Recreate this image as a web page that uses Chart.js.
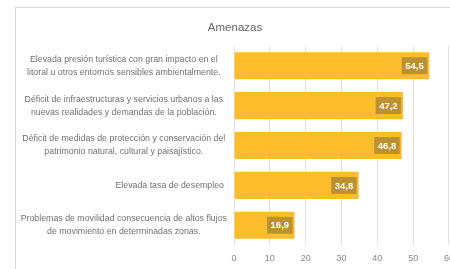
<!DOCTYPE html>
<html>
<head>
<meta charset="utf-8">
<script src="https://cdn.jsdelivr.net/npm/chart.js@4"></script>
<style>
  body { margin: 0; width: 450px; height: 269px; overflow: hidden; background: #fff; }
  #box { position: absolute; left: 15px; top: 7px; border-left: 1px solid #d9d9d9; border-top: 1px solid #d9d9d9; }
</style>
</head>
<body>
<div id="box"><canvas id="chart" width="446" height="268"></canvas></div>
<script>
// Threat categories (one array entry per bar, lines as they wrap)
const categories = [
    ['Elevada presión turística con gran impacto en el', 'litoral u otros entornos sensibles ambientalmente.'],
    ['Déficit de infraestructuras y servicios urbanos a las', 'nuevas realidades y demandas de la población.'],
    ['Déficit de medidas de protección y conservación del', 'patrimonio natural, cultural y paisajístico.'],
    ['Elevada tasa de desempleo'],
    ['Problemas de movilidad consecuencia de altos flujos', 'de movimiento en determinadas zonas.']
];
const values = [54.5, 47.2, 46.8, 34.8, 16.9];
const xTickValues = [0, 10, 20, 30, 40, 50, 60];

const fontFamily = '"Liberation Sans", Arial, sans-serif';
const labelFont = '8.8px ' + fontFamily;

// Category labels: multi-line ones centered, single-line ones right aligned (Excel style)
const categoryLabels = {
    id: 'categoryLabels',
    afterDraw(chart) {
        const ctx = chart.ctx;
        const y = chart.scales.y;
        const right = chart.chartArea.left - 10;
        ctx.save();
        ctx.font = labelFont;
        ctx.fillStyle = '#707070';
        ctx.textBaseline = 'middle';
        let maxW = 0;
        categories.forEach(lines => lines.forEach(l => { maxW = Math.max(maxW, ctx.measureText(l).width); }));
        const center = right + 3 - maxW / 2;
        categories.forEach((lines, i) => {
            const cy = y.getPixelForValue(i);
            const lh = 13;
            lines.forEach((line, j) => {
                const ly = cy + (j - (lines.length - 1) / 2) * lh;
                if (lines.length > 1) {
                    ctx.textAlign = 'center';
                    ctx.fillText(line, center, ly);
                } else {
                    ctx.textAlign = 'right';
                    ctx.fillText(line, right, ly);
                }
            });
        });
        ctx.restore();
    }
};

// Value boxes at the end of each bar
const valueBoxes = {
    id: 'valueBoxes',
    afterDatasetsDraw(chart) {
        const ctx = chart.ctx;
        const meta = chart.getDatasetMeta(0);
        ctx.save();
        ctx.font = 'bold 9.5px ' + fontFamily;
        ctx.textAlign = 'center';
        ctx.textBaseline = 'middle';
        meta.data.forEach((bar, i) => {
            const txt = values[i].toFixed(1).replace('.', ',');
            const w = ctx.measureText(txt).width + 7;
            const h = 17;
            const x1 = bar.x - 2 - w;
            ctx.fillStyle = '#BC9132';
            ctx.fillRect(x1, bar.y - h / 2, w, h);
            ctx.fillStyle = '#fff';
            ctx.fillText(txt, x1 + w / 2, bar.y + 0.5);
        });
        ctx.restore();
    }
};

new Chart(document.getElementById('chart'), {
    type: 'bar',
    data: {
        labels: categories,
        datasets: [{
            data: values,
            backgroundColor: '#FBBD2C',
            categoryPercentage: 1,
            barPercentage: 0.68
        }]
    },
    plugins: [categoryLabels, valueBoxes],
    options: {
        indexAxis: 'y',
        responsive: false,
        animation: false,
        devicePixelRatio: 1,
        layout: { padding: { left: 0, right: 8, top: 0, bottom: 4 } },
        plugins: {
            legend: { display: false },
            tooltip: { enabled: false },
            title: {
                display: true,
                text: 'Amenazas',
                color: '#666',
                font: { family: fontFamily, size: 11.5, weight: 'normal' },
                padding: { top: 13, bottom: 11 }
            }
        },
        scales: {
            x: {
                min: 0,
                max: 60,
                afterBuildTicks: scale => { scale.ticks = xTickValues.map(v => ({ value: v })); },
                border: { display: false },
                grid: { color: '#e2e2e2', drawTicks: false },
                ticks: {
                    color: '#888',
                    padding: 8,
                    font: { family: fontFamily, size: 9 }
                }
            },
            y: {
                border: { display: false },
                grid: { display: false },
                ticks: { display: false },
                afterFit: scale => { scale.width = 218; }
            }
        }
    }
});
</script>
</body>
</html>
